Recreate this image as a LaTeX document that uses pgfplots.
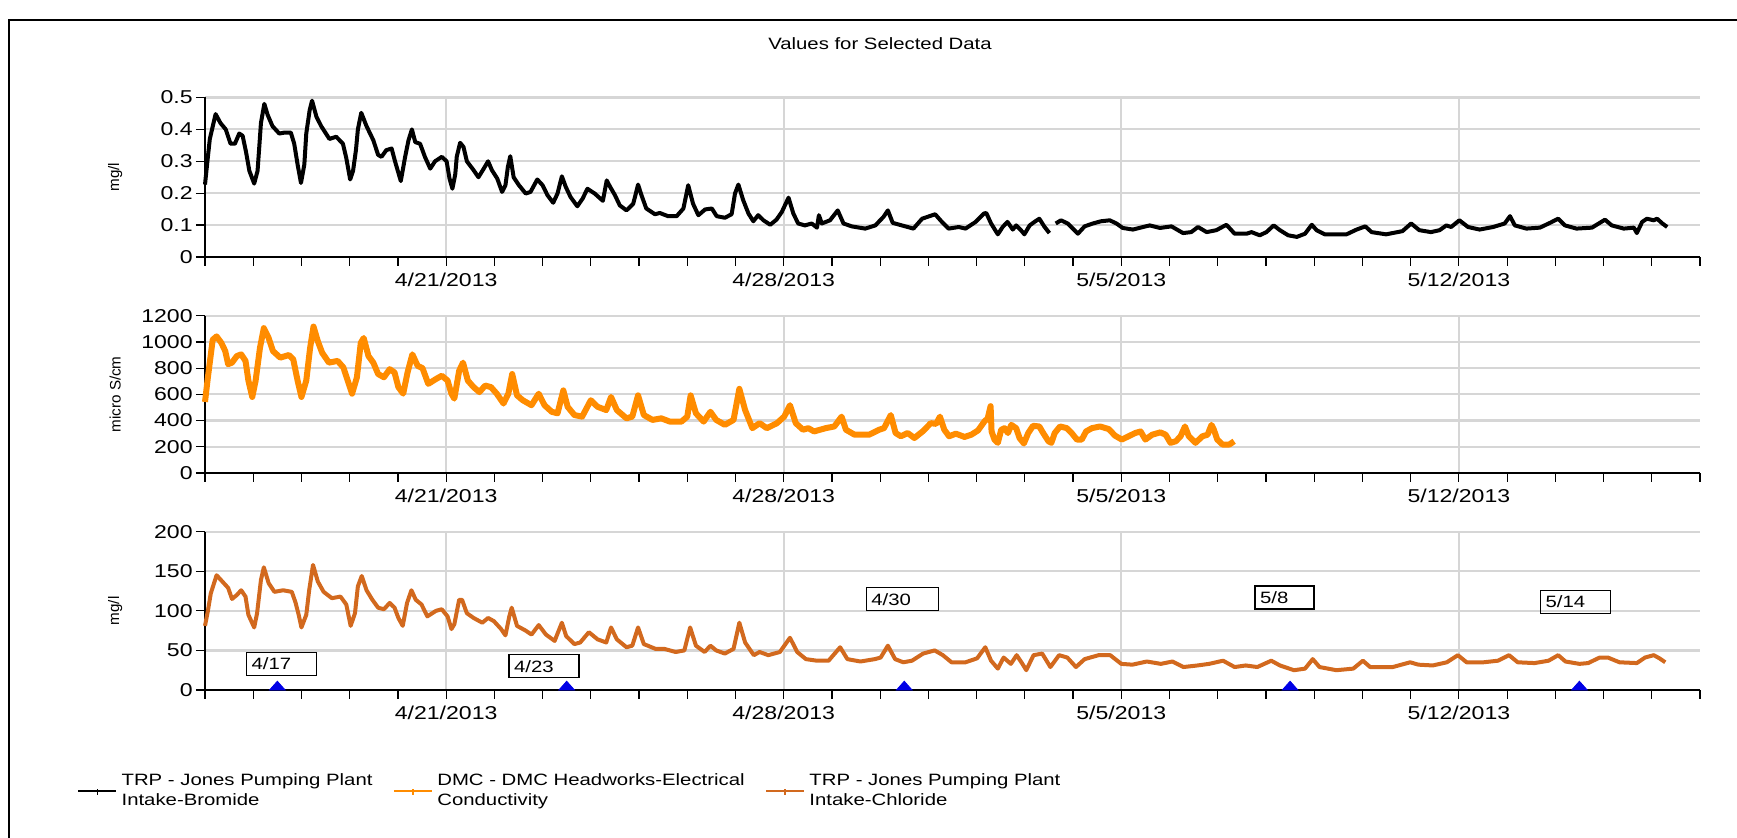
\documentclass[border=0pt]{standalone}
\usepackage{fontspec}
\setmainfont{Liberation Sans}
\usepackage{graphicx}
\usepackage{pgfplots}
\pgfplotsset{compat=1.18}

\definecolor{ecorange}{RGB}{255,140,0}
\definecolor{clorange}{RGB}{210,105,30}
\definecolor{gridgray}{RGB}{214,214,214}
\definecolor{markblue}{RGB}{0,0,230}

% the reference text is stretched sideways
\newcommand{\sx}[1]{\scalebox{1.24}[1]{#1}}
\newcommand{\fsz}{\fontsize{8.2}{9.7}\selectfont}
\newcommand{\tfz}{\fontsize{9.3}{11}\selectfont}

\tikzset{datebox/.style={draw, line width=0.7pt, anchor=west, inner xsep=2.5pt, inner ysep=0pt, minimum height=11.5pt, font=\fsz}}

\pgfplotsset{
  panel/.style={
    scale only axis, width=747.5pt, anchor=north west,
    xmin=0, xmax=31,
    axis x line=bottom, axis y line=left,
    axis line style={-, line width=0.8pt},
    xtick={5,12,19,26},
    xticklabels={\sx{4/21/2013},\sx{4/28/2013},\sx{5/5/2013},\sx{5/12/2013}},
    minor xtick={0,1,...,31},
    yticklabel={\sx{\pgfmathprintnumber{\tick}}},
    tick align=outside,
    major tick length=4.5pt, minor tick length=4.5pt,
    tick style={black, line width=0.6pt},
    xmajorgrids, ymajorgrids,
    major grid style={gridgray, line width=1.1pt},
    /pgf/number format/assume math mode=true,
    /pgf/number format/1000 sep={},
    scaled y ticks=false,
    tick label style={font=\tfz},
    yticklabel style={inner xsep=1.5pt},
    every axis y label/.style={at={(axis description cs:-0.06,0.5)}, rotate=90, anchor=center, font=\fontsize{7.6}{9}\selectfont},
    unbounded coords=jump,
    clip=false,
  },
}

\begin{document}
\begin{tikzpicture}
\useasboundingbox (0,0) rectangle (868.5pt,-419pt);
\draw[line width=1pt] (4.5pt,-419pt) -- (4.5pt,-10pt) -- (868.5pt,-10pt);
\node[font=\fsz] at (440pt,-22pt) {\sx{Values for Selected Data}};

% bromide
\begin{axis}[panel, at={(102.5pt,-48.75pt)}, height=79.75pt,
  ymin=0, ymax=0.5, ytick={0,0.1,0.2,0.3,0.4,0.5}, ylabel={mg/l}]
\addplot[black, line width=2pt, line join=round] coordinates {
(0,0.227) (0.05,0.30) (0.10,0.37) (0.22,0.448) (0.32,0.42) (0.43,0.40) (0.53,0.355) (0.62,0.355)
(0.71,0.387) (0.78,0.38) (0.85,0.33) (0.92,0.27) (1.02,0.23) (1.09,0.27) (1.13,0.355) (1.16,0.42)
(1.23,0.48) (1.30,0.445) (1.40,0.41) (1.54,0.387) (1.65,0.39) (1.78,0.39) (1.85,0.355) (1.92,0.29)
(1.99,0.232) (2.06,0.29) (2.10,0.387) (2.17,0.46) (2.22,0.49) (2.31,0.44) (2.41,0.41) (2.58,0.37)
(2.72,0.377) (2.86,0.355) (2.93,0.31) (3.01,0.243) (3.07,0.27) (3.13,0.335) (3.17,0.40) (3.24,0.452)
(3.35,0.41) (3.49,0.366) (3.59,0.32) (3.66,0.314) (3.76,0.335) (3.87,0.34) (3.94,0.30) (4.06,0.238)
(4.15,0.314) (4.22,0.366) (4.29,0.40) (4.36,0.36) (4.46,0.355) (4.56,0.314) (4.67,0.277) (4.77,0.30)
(4.91,0.314) (5.01,0.30) (5.07,0.246) (5.13,0.214) (5.19,0.26) (5.22,0.314) (5.29,0.358) (5.36,0.345)
(5.43,0.30) (5.57,0.272) (5.67,0.25) (5.78,0.277) (5.87,0.30) (5.95,0.272) (6.06,0.246) (6.16,0.204)
(6.23,0.225) (6.28,0.282) (6.33,0.316) (6.40,0.25) (6.51,0.225) (6.65,0.199) (6.75,0.204) (6.89,0.243)
(7.00,0.225) (7.10,0.194) (7.22,0.17) (7.31,0.199) (7.40,0.253) (7.48,0.22) (7.58,0.188) (7.72,0.159)
(7.83,0.183) (7.93,0.214) (8.08,0.199) (8.25,0.176) (8.33,0.24) (8.40,0.22) (8.50,0.194) (8.60,0.162)
(8.74,0.146) (8.88,0.167) (8.98,0.227) (9.05,0.194) (9.15,0.152) (9.33,0.134) (9.43,0.138) (9.60,0.128)
(9.78,0.128) (9.92,0.152) (10.02,0.225) (10.12,0.167) (10.23,0.131) (10.37,0.149) (10.51,0.152) (10.61,0.128)
(10.78,0.123) (10.92,0.134) (10.99,0.199) (11.06,0.227) (11.16,0.178) (11.27,0.136) (11.37,0.112) (11.47,0.131)
(11.58,0.115) (11.72,0.101) (11.85,0.117) (11.96,0.141) (12.10,0.186) (12.20,0.136) (12.30,0.105) (12.44,0.099)
(12.58,0.105) (12.69,0.092) (12.73,0.131) (12.79,0.105) (12.96,0.115) (13.12,0.146) (13.24,0.105) (13.41,0.096)
(13.69,0.089) (13.90,0.099) (14.07,0.126) (14.16,0.146) (14.26,0.107) (14.45,0.099) (14.69,0.089) (14.87,0.12)
(15.14,0.134) (15.28,0.110) (15.42,0.089) (15.63,0.094) (15.77,0.089) (15.98,0.110) (16.15,0.136) (16.20,0.138)
(16.30,0.105) (16.44,0.071) (16.54,0.094) (16.64,0.110) (16.75,0.086) (16.82,0.099) (16.92,0.084) (16.99,0.071)
(17.10,0.099) (17.20,0.110) (17.30,0.120) (17.41,0.094) (17.51,0.075) (17.57,nan) (17.64,0.105) (17.75,0.115)
(17.89,0.105) (18.03,0.084) (18.10,0.073) (18.24,0.096) (18.41,0.105) (18.58,0.112) (18.76,0.115) (18.90,0.105)
(19.03,0.091) (19.24,0.086) (19.45,0.094) (19.59,0.099) (19.80,0.091) (20.04,0.096) (20.28,0.075) (20.45,0.078)
(20.59,0.094) (20.77,0.078) (20.97,0.084) (21.18,0.101) (21.35,0.073) (21.60,0.073) (21.70,0.078) (21.87,0.068)
(22.01,0.078) (22.16,0.099) (22.29,0.084) (22.46,0.068) (22.64,0.063) (22.81,0.073) (22.95,0.101) (23.05,0.084)
(23.22,0.071) (23.47,0.071) (23.67,0.071) (23.88,0.086) (24.06,0.096) (24.19,0.078) (24.49,0.071) (24.83,0.081)
(25.01,0.105) (25.18,0.084) (25.42,0.078) (25.60,0.084) (25.74,0.099) (25.84,0.094) (26.01,0.115) (26.19,0.094)
(26.43,0.086) (26.71,0.094) (26.95,0.105) (27.06,0.128) (27.16,0.099) (27.40,0.089) (27.68,0.092) (27.89,0.107)
(28.06,0.120) (28.20,0.099) (28.44,0.089) (28.76,0.092) (28.90,0.105) (29.03,0.117) (29.17,0.099) (29.42,0.089)
(29.63,0.092) (29.69,0.075) (29.80,0.110) (29.90,0.120) (30.04,0.115) (30.11,0.120) (30.22,0.105) (30.32,0.094)
};
\end{axis}

% electrical conductivity
\begin{axis}[panel, at={(102.5pt,-157.85pt)}, height=78.65pt,
  ymin=0, ymax=1200, ytick={0,200,400,600,800,1000,1200}, ylabel={micro S/cm}]
\addplot[ecorange, line width=3pt, line join=round] coordinates {
(0,542) (0.06,730) (0.16,1017) (0.24,1042) (0.34,992) (0.42,930) (0.48,830) (0.56,842)
(0.66,892) (0.75,905) (0.84,855) (0.90,705) (0.98,580) (1.05,705) (1.14,955) (1.22,1105)
(1.32,1030) (1.41,930) (1.56,880) (1.74,900) (1.83,867) (1.92,705) (2.00,580) (2.10,705)
(2.18,955) (2.25,1117) (2.34,1005) (2.43,917) (2.57,842) (2.75,855) (2.87,805) (2.96,705)
(3.05,605) (3.15,730) (3.23,992) (3.29,1030) (3.39,892) (3.49,842) (3.59,755) (3.71,730)
(3.83,792) (3.93,767) (4.01,655) (4.11,605) (4.20,767) (4.30,905) (4.41,817) (4.51,800)
(4.63,680) (4.79,717) (4.91,742) (5.03,705) (5.11,605) (5.17,567) (5.27,780) (5.35,842)
(5.45,705) (5.57,655) (5.69,617) (5.81,667) (5.93,655) (6.05,605) (6.19,530) (6.29,605)
(6.37,755) (6.47,592) (6.59,555) (6.77,517) (6.92,605) (7.04,517) (7.19,467) (7.31,455)
(7.43,630) (7.52,505) (7.66,442) (7.82,430) (8.00,555) (8.14,505) (8.32,480) (8.42,580)
(8.54,480) (8.74,417) (8.86,430) (8.98,592) (9.10,442) (9.28,405) (9.46,417) (9.64,392)
(9.88,392) (10.00,430) (10.07,592) (10.18,455) (10.34,392) (10.48,467) (10.60,405) (10.78,367)
(10.96,405) (11.08,642) (11.20,480) (11.35,342) (11.50,380) (11.65,342) (11.86,380) (12.01,430)
(12.13,517) (12.25,380) (12.40,330) (12.51,342) (12.63,317) (12.87,342) (13.05,355) (13.20,430)
(13.29,330) (13.47,292) (13.77,292) (13.98,330) (14.08,342) (14.22,442) (14.32,305) (14.43,280)
(14.57,305) (14.71,267) (14.88,317) (15.05,380) (15.16,375) (15.24,430) (15.33,330) (15.43,280)
(15.57,300) (15.75,275) (15.89,292) (16.03,325) (16.16,392) (16.23,417) (16.29,510) (16.31,317)
(16.37,255) (16.44,230) (16.51,330) (16.58,342) (16.65,305) (16.72,367) (16.82,342) (16.89,267)
(16.98,225) (17.07,305) (17.17,360) (17.30,355) (17.38,305) (17.49,242) (17.55,230) (17.62,305)
(17.73,355) (17.87,342) (17.97,305) (18.08,255) (18.18,255) (18.27,317) (18.39,342) (18.56,355)
(18.74,335) (18.87,285) (19.01,255) (19.15,280) (19.29,305) (19.40,317) (19.50,255) (19.64,292)
(19.81,310) (19.92,292) (20.02,230) (20.13,242) (20.23,280) (20.32,355) (20.40,280) (20.54,230)
(20.68,280) (20.79,292) (20.87,367) (20.92,330) (20.99,255) (21.10,217) (21.24,217) (21.34,242)
};
\end{axis}

% chloride
\begin{axis}[panel, at={(102.5pt,-265.85pt)}, height=79.15pt,
  ymin=0, ymax=200, ytick={0,50,100,150,200}, ylabel={mg/l},
  legend columns=3,
  legend style={at={(axis description cs:-0.086,-0.638)}, anchor=west,
    draw=none, fill=none, font=\fsz, inner sep=0pt,
    cells={anchor=west, align=left},
    /tikz/every even column/.append style={column sep=8pt}},
  legend image code/.code={
    \draw[#1, line width=1.4pt] (0pt,0pt) -- (19pt,0pt);
    \draw[#1, line width=0.7pt] (9.5pt,-2pt) -- (9.5pt,1pt);}]
\addlegendimage{black}
\addlegendentry{\sx{TRP - Jones Pumping Plant}\\\sx{Intake-Bromide}}
\addlegendimage{ecorange}
\addlegendentry{\sx{DMC - DMC Headworks-Electrical}\\\sx{Conductivity}}
\addplot[clorange, line width=2pt, line join=round] coordinates {
(0,81) (0.06,100) (0.12,122) (0.24,145) (0.36,137) (0.48,129) (0.56,115) (0.66,120)
(0.75,126) (0.84,118) (0.90,95) (1.02,79) (1.08,97) (1.16,139) (1.22,155) (1.32,135)
(1.44,124) (1.62,126) (1.80,124) (1.88,110) (1.95,93) (2.00,79) (2.10,95) (2.16,126)
(2.24,158) (2.34,137) (2.46,124) (2.63,116) (2.81,118) (2.93,108) (3.02,81) (3.11,97)
(3.17,131) (3.25,144) (3.35,126) (3.47,114) (3.59,104) (3.71,102) (3.83,110) (3.93,104)
(4.01,91) (4.10,81) (4.19,110) (4.28,126) (4.37,114) (4.49,108) (4.61,93) (4.79,100)
(4.91,102) (5.03,93) (5.11,77) (5.17,83) (5.27,114) (5.33,114) (5.43,97) (5.57,91)
(5.75,85) (5.87,91) (5.99,87) (6.14,77) (6.23,69) (6.31,93) (6.36,104) (6.47,81)
(6.65,75) (6.77,70) (6.92,82) (7.07,70) (7.25,62) (7.40,85) (7.49,68) (7.66,58)
(7.78,60) (7.96,73) (8.14,64) (8.32,60) (8.42,79) (8.54,64) (8.74,54) (8.86,56)
(8.98,79) (9.10,58) (9.34,52) (9.52,52) (9.76,48) (9.94,50) (10.06,79) (10.18,56)
(10.36,48) (10.48,56) (10.60,50) (10.78,46) (10.96,52) (11.08,85) (11.20,60) (11.38,44)
(11.50,48) (11.68,44) (11.92,48) (12.13,66) (12.28,48) (12.46,39) (12.69,37) (12.93,37)
(13.17,54) (13.32,39) (13.59,36) (13.89,39) (14.01,41) (14.16,56) (14.31,39) (14.48,35)
(14.66,37) (14.89,46) (15.13,50) (15.30,44) (15.48,35) (15.77,35) (16.01,40) (16.18,54)
(16.30,37) (16.44,27) (16.56,41) (16.71,33) (16.83,44) (16.95,33) (17.03,25) (17.18,44)
(17.36,46) (17.53,29) (17.71,44) (17.88,41) (18.06,29) (18.24,39) (18.53,44) (18.77,44)
(19.00,33) (19.23,32) (19.53,36) (19.82,33) (20.06,36) (20.29,29) (20.58,31) (20.82,33)
(21.11,37) (21.35,29) (21.58,31) (21.82,29) (22.11,37) (22.29,31) (22.58,25) (22.81,27)
(22.97,39) (23.11,29) (23.46,25) (23.81,27) (24.01,37) (24.16,29) (24.63,29) (24.99,35)
(25.16,32) (25.46,31) (25.75,35) (25.98,44) (26.16,35) (26.51,35) (26.81,37) (27.04,44)
(27.22,35) (27.57,34) (27.86,37) (28.06,44) (28.21,36) (28.50,33) (28.68,34) (28.92,41)
(29.09,41) (29.33,35) (29.69,34) (29.86,41) (30.04,44) (30.16,40) (30.28,35)
};
\addlegendentry{\sx{TRP - Jones Pumping Plant}\\\sx{Intake-Chloride}}
\addplot[forget plot, only marks, mark=triangle*, mark size=4.5pt, color=markblue,
  mark options={yshift=1.46pt, yscale=0.65}] coordinates {
(1.5,0) (7.5,0) (14.5,0) (22.5,0) (28.5,0)};
\node[datebox, text width=30pt] at (axis cs:0.85,32.9) {\sx{4/17}};
\node[datebox, text width=30pt] at (axis cs:6.29,30.1) {\sx{4/23}};
\node[datebox, text width=31pt] at (axis cs:13.70,114.7) {\sx{4/30}};
\node[datebox, text width=24.5pt] at (axis cs:21.76,116.8) {\sx{5/8}};
\node[datebox, text width=30pt] at (axis cs:27.68,111.2) {\sx{5/14}};
\end{axis}
\end{tikzpicture}
\end{document}
